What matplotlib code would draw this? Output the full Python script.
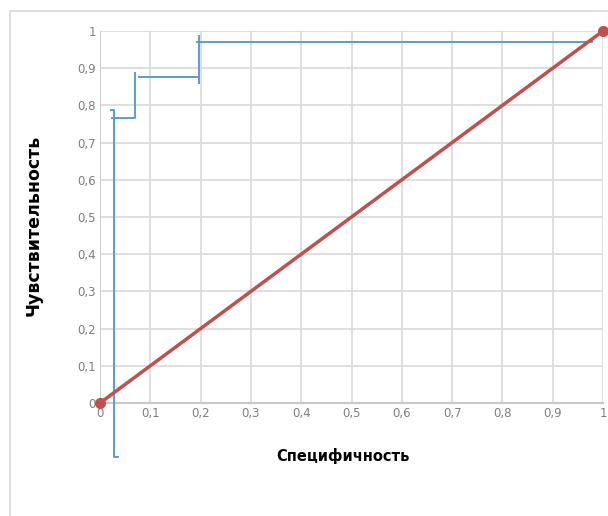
import matplotlib.pyplot as plt
from matplotlib.lines import Line2D
from matplotlib.ticker import FuncFormatter

# diagonal reference line
ref_x = [0, 1]
ref_y = [0, 1]

# step curve, drawn as separate bracket-like pieces
step_pieces = [
    ([0.036, 0.028, 0.028, 0.022], [-0.145, -0.145, 0.788, 0.788]),
    ([0.024, 0.070, 0.070], [0.766, 0.766, 0.887]),
    ([0.078, 0.197], [0.876, 0.876]),
    ([0.197, 0.197], [0.860, 0.987]),
    ([0.193, 0.978], [0.970, 0.970]),
]

ticks = [i / 10 for i in range(11)]

plt.rcParams['font.family'] = ['DejaVu Sans']

fig = plt.figure(figsize=(6.08, 5.16), dpi=100)
ax = fig.add_axes([100 / 608, 1 - 403 / 516, 503 / 608, 372 / 516])

# outer frame (left and top only)
frame = Line2D([10 / 608, 10 / 608, 1], [0, 1 - 11 / 516, 1 - 11 / 516],
               transform=fig.transFigure, color='#d9d9d9', lw=1.2)
fig.add_artist(frame)

for xs, ys in step_pieces:
    ax.plot(xs, ys, color='#5b9bd5', lw=1.4, clip_on=False, zorder=3)

ax.plot(ref_x, ref_y, color='#c0504d', lw=2.5, marker='o', markersize=7,
        clip_on=False, zorder=4)

ax.set_xlim(0, 1)
ax.set_ylim(0, 1)
ax.set_xticks(ticks)
ax.set_yticks(ticks)


def comma_fmt(v, pos):
    s = ('%.1f' % v).rstrip('0').rstrip('.')
    return s.replace('.', ',')


ax.xaxis.set_major_formatter(FuncFormatter(comma_fmt))
ax.yaxis.set_major_formatter(FuncFormatter(comma_fmt))
ax.tick_params(length=0, labelsize=8.5, labelcolor='#7f7f7f', pad=3)
ax.grid(True, color='#d9d9d9', lw=1.2)
ax.set_axisbelow(True)

for side in ['top', 'right']:
    ax.spines[side].set_visible(False)
ax.spines['left'].set_color('#d0d0d0')
ax.spines['bottom'].set_color('#c8c8c8')
ax.spines['bottom'].set_linewidth(1.5)

fig.text(343 / 608, 1 - 456 / 516, 'Специфичность', ha='center', va='center',
         fontsize=10.5, fontweight='bold')
fig.text(34 / 608, 1 - 225 / 516, 'Чувствительность', ha='center', va='center',
         rotation=90, fontsize=12.5, fontweight='bold')

fig.savefig('out.png', dpi=100)
